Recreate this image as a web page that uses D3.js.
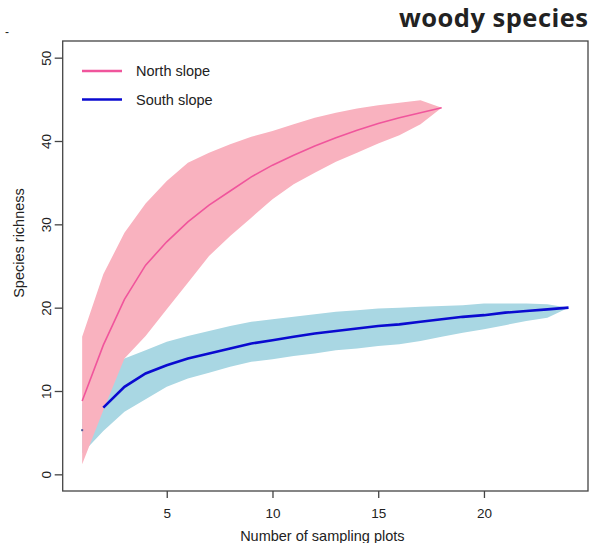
<!DOCTYPE html>
<html>
<head>
<meta charset="utf-8">
<script src="https://cdn.jsdelivr.net/npm/d3@7"></script>
<style>
  body { margin: 0; background: #fff; }
  svg text { font-family: "Liberation Sans", Arial, sans-serif; fill: #222; }
</style>
</head>
<body>
<svg id="chart" width="590" height="543"></svg>
<script>
//
// data
var plotsNorth = d3.range(1, 19),
    northMean  = [8.8, 15.5, 21.0, 25.1, 27.9, 30.3, 32.3, 34.0, 35.7, 37.1, 38.3, 39.4, 40.4, 41.3, 42.1, 42.8, 43.4, 44.0],
    northUpper = [16.5, 24.0, 29.0, 32.5, 35.2, 37.4, 38.6, 39.6, 40.5, 41.2, 42.0, 42.8, 43.4, 43.9, 44.3, 44.6, 44.9, 44.0],
    northLower = [1.2, 7.7, 13.9, 16.6, 19.8, 23.0, 26.2, 28.6, 30.8, 33.0, 34.8, 36.2, 37.5, 38.6, 39.7, 40.7, 42.0, 44.0];

var plotsSouth = d3.range(1, 25),
    southMean  = [5.3, 8.0, 10.5, 12.1, 13.1, 13.9, 14.5, 15.1, 15.7, 16.1, 16.5, 16.9, 17.2, 17.5, 17.8, 18.0, 18.3, 18.6, 18.9, 19.1, 19.4, 19.6, 19.8, 20.0],
    southUpper = [8.5, 11.5, 13.9, 14.9, 15.9, 16.6, 17.2, 17.8, 18.3, 18.6, 18.9, 19.2, 19.5, 19.7, 19.9, 20.0, 20.1, 20.2, 20.3, 20.5, 20.5, 20.5, 20.4, 20.0],
    southLower = [2.5, 5.2, 7.5, 9.0, 10.5, 11.5, 12.2, 12.9, 13.5, 13.8, 14.2, 14.5, 14.9, 15.1, 15.4, 15.6, 16.0, 16.5, 17.0, 17.4, 17.9, 18.4, 18.8, 20.0];

var xTicks = [5, 10, 15, 20],
    yTicks = [0, 10, 20, 30, 40, 50],
    seriesNames = ['North slope', 'South slope'];

var svg = d3.select('#chart'),
    box = {left: 62.7, right: 588, top: 41, bottom: 491};

// R style: 4% padding around the limits
var x = d3.scaleLinear().domain([0.08, 24.92]).range([box.left, box.right]),
    y = d3.scaleLinear().domain([-2, 52]).range([box.bottom, box.top]);

var band = function(xs, lo, hi) {
  return d3.area()
    .x(function(d, i) { return x(xs[i]); })
    .y0(function(d, i) { return y(lo[i]); })
    .y1(function(d, i) { return y(hi[i]); })(xs);
};
var line = function(xs, vs) {
  return d3.line()
    .x(function(d, i) { return x(xs[i]); })
    .y(function(d, i) { return y(vs[i]); })(xs);
};

//
// bands then lines
svg.append('path').attr('d', band(plotsSouth, southLower, southUpper))
  .attr('fill', '#a9d7e3');
svg.append('path').attr('d', band(plotsNorth, northLower, northUpper))
  .attr('fill', '#f9b2bf');
svg.append('path').attr('d', line(plotsNorth, northMean))
  .attr('fill', 'none').attr('stroke', '#f0559c').attr('stroke-width', 1.6);
svg.append('path').attr('d', line(plotsSouth.slice(1), southMean.slice(1)))
  .attr('fill', 'none').attr('stroke', '#0a0ad0').attr('stroke-width', 2.6);
// lone first point of the south curve
svg.append('rect')
  .attr('x', x(plotsSouth[0]) - 1).attr('y', y(southMean[0]) - 1)
  .attr('width', 2).attr('height', 2).attr('fill', '#555a9a');

//
// frame and axes
svg.append('rect')
  .attr('x', box.left).attr('y', box.top)
  .attr('width', box.right - box.left).attr('height', box.bottom - box.top)
  .attr('fill', 'none').attr('stroke', '#444').attr('stroke-width', 1.3);

var xAxis = svg.append('g')
  .attr('transform', 'translate(0,' + box.bottom + ')')
  .call(d3.axisBottom(x).tickValues(xTicks).tickSize(7).tickPadding(10));
var yAxis = svg.append('g')
  .attr('transform', 'translate(' + box.left + ',0)')
  .call(d3.axisLeft(y).tickValues(yTicks).tickSize(8).tickPadding(0));
[xAxis, yAxis].forEach(function(g) {
  g.select('.domain').remove();
  g.selectAll('line').attr('stroke', '#444').attr('stroke-width', 1.3);
  g.selectAll('text').style('font-size', '13.5px')
    .style('font-family', '"Liberation Sans", Arial, sans-serif').attr('fill', '#222');
});
yAxis.selectAll('text')
  .attr('x', null).attr('dy', null)
  .attr('text-anchor', 'middle')
  .attr('transform', 'translate(-17,0) rotate(-90) translate(0,5)');

svg.append('text')
  .attr('x', (box.left + box.right) / 2 - 3).attr('y', 541)
  .attr('text-anchor', 'middle').style('font-size', '14.5px')
  .text('Number of sampling plots');
svg.append('text')
  .attr('transform', 'translate(24,243) rotate(-90)')
  .attr('text-anchor', 'middle').style('font-size', '14.5px')
  .text('Species richness');

//
// legend
var legend = svg.selectAll('.legend').data(seriesNames).enter()
  .append('g').attr('class', 'legend')
  .attr('transform', function(d, i) { return 'translate(82,' + (71 + i * 28.5) + ')'; });
legend.append('line')
  .attr('x1', 0).attr('x2', 40)
  .attr('stroke', function(d, i) { return i === 0 ? '#f0559c' : '#0a0ad0'; })
  .attr('stroke-width', 2.4);
legend.append('text')
  .attr('x', 54).attr('dy', '0.35em')
  .style('font-size', '14.5px')
  .text(function(d) { return d; });

//
// title and stray mark
svg.append('text')
  .attr('x', 588).attr('y', 27)
  .attr('text-anchor', 'end')
  .attr('textLength', 189).attr('lengthAdjust', 'spacing')
  .style('font-family', '"Open Sans", sans-serif').style('font-weight', 700)
  .style('font-size', '25.5px').attr('fill', '#3a3a3a')
  .text('woody species');
svg.append('text')
  .attr('x', 5).attr('y', 36)
  .style('font-size', '12px').attr('fill', '#999')
  .text('-');
</script>
</body>
</html>
